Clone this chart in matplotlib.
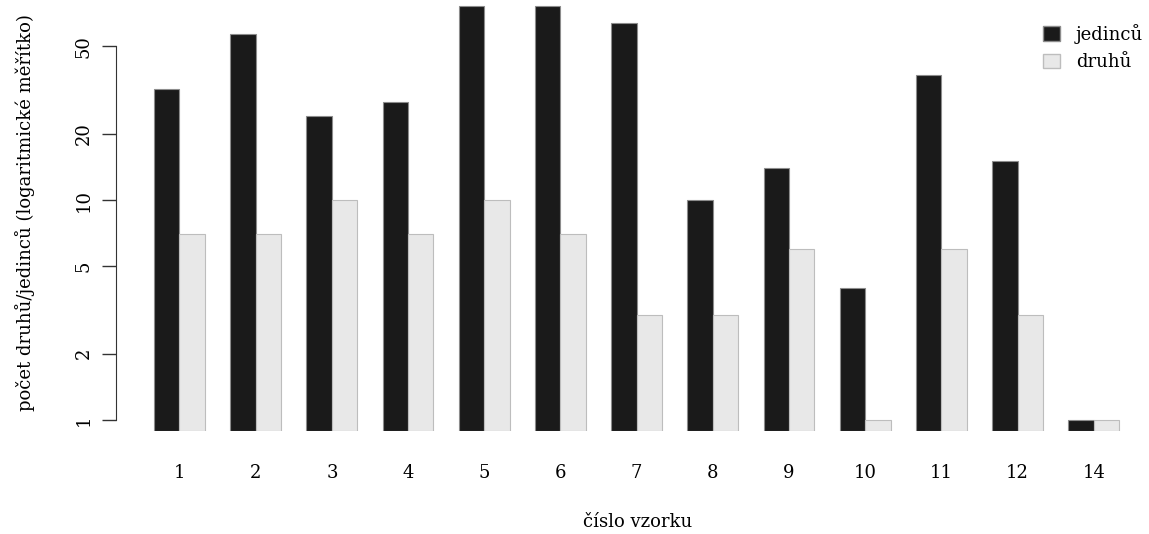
import numpy as np
import matplotlib.pyplot as plt
from matplotlib.patches import Patch

plt.rcParams['font.family'] = ['DejaVu Serif']

vzorky = ['1', '2', '3', '4', '5', '6', '7', '8', '9', '10', '11', '12', '14']
jedincu = [32, 57, 24, 28, 76, 76, 64, 10, 14, 4, 37, 15, 1]
druhu = [7, 7, 10, 7, 10, 7, 3, 3, 6, 1, 6, 3, 1]

W, H = 1149, 534
fig = plt.figure(figsize=(W / 100, H / 100), dpi=100)
# axes placed in pixels: left=116, right=1149, bottom=431, top=5
ax = fig.add_axes([116 / W, (H - 431) / H, (W - 116) / W, (431 - 5) / H])

base = 10 ** (-11 / 220)
top = 10 ** ((420 - 5) / 220)
idx = np.arange(len(vzorky))
pos_j = 3 * idx + 1
pos_d = 3 * idx + 2

ax.bar(pos_j, np.array(jedincu) - base, bottom=base, width=1, align='edge',
       color='#1a1a1a', edgecolor='#8c8c8c', linewidth=0.8)
ax.bar(pos_d, np.array(druhu) - base, bottom=base, width=1, align='edge',
       color='#e8e8e8', edgecolor='#bdbdbd', linewidth=0.8)

ax.set_yscale('log')
ax.set_ylim(base, top)
ax.set_xlim(-0.5, (W - 128.6) / 25.4)

ax.set_yticks([1, 2, 5, 10, 20, 50])
ax.set_yticklabels(['1', '2', '5', '10', '20', '50'], rotation=90, va='center')
ax.minorticks_off()
ax.tick_params(axis='y', length=10, width=1, pad=7, labelsize=13, color='#333333')
ax.set_xticks(pos_j + 1)
ax.set_xticklabels(vzorky)
ax.tick_params(axis='x', length=0, pad=24, labelsize=13)

for s in ['top', 'right', 'bottom']:
    ax.spines[s].set_visible(False)
ax.spines['left'].set_bounds(1, 50)
ax.spines['left'].set_color('#333333')

fig.text(638 / W, 1 - 522 / H, 'číslo vzorku', ha='center', va='center', fontsize=13)
fig.text(25 / W, 1 - 213 / H, 'počet druhů/jedinců (logaritmické měřítko)',
         rotation=90, ha='center', va='center', fontsize=13)

handles = [Patch(facecolor='#1a1a1a', edgecolor='#8c8c8c'),
           Patch(facecolor='#e8e8e8', edgecolor='#bdbdbd')]
fig.legend(handles, ['jedinců', 'druhů'], loc='upper left',
           bbox_to_anchor=(1027 / W, 1 - 8 / H), frameon=False, fontsize=13,
           handlelength=0.9, handleheight=0.9, handletextpad=0.9, labelspacing=0.5)

fig.savefig('out.png', dpi=100)
